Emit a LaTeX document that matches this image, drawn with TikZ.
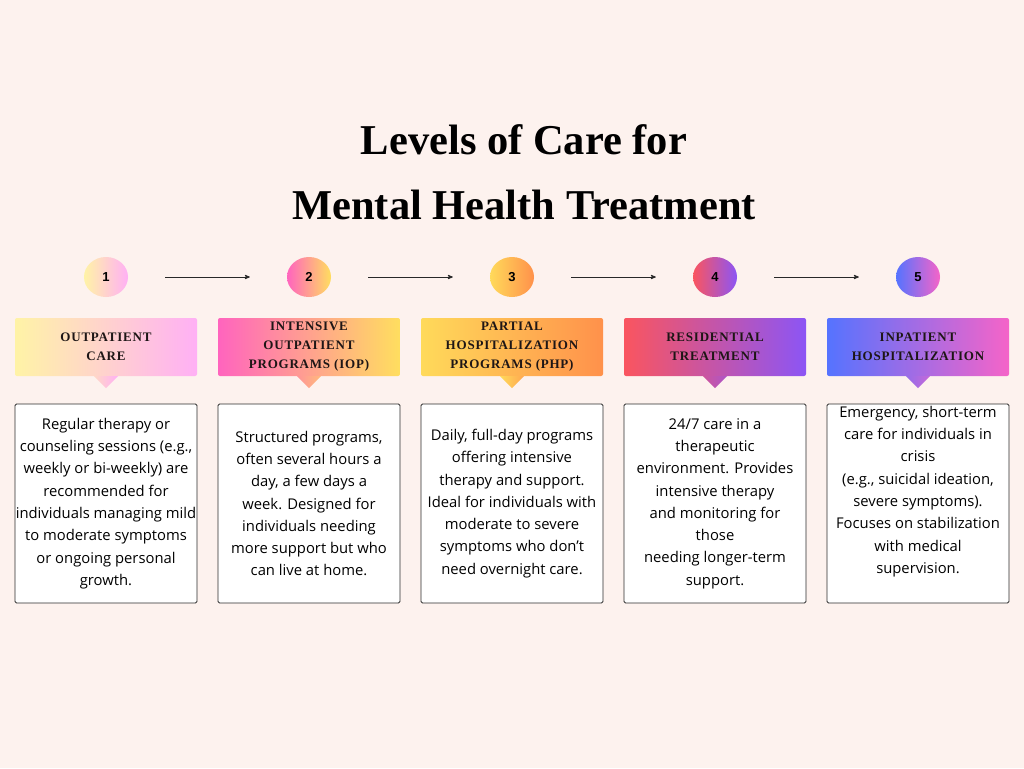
\documentclass[tikz,border=0pt]{standalone}
\usepackage{fontspec}
\setmainfont{Liberation Serif}
\setsansfont{Open Sans}
\newfontfamily\headfont[LetterSpace=6]{Liberation Serif}
\newfontfamily\numfont{Liberation Sans}
\usepackage{tikz}
\usetikzlibrary{arrows}
\usetikzlibrary{shapes.geometric}
\usetikzlibrary{positioning}

\definecolor{bgpink}{RGB}{253,242,238}
\definecolor{headtext}{RGB}{30,22,22}
\definecolor{boxline}{RGB}{45,45,45}
\definecolor{arrowline}{RGB}{40,40,40}
\definecolor{cyellow}{RGB}{255,243,166}
\definecolor{cpink}{RGB}{255,176,245}
\definecolor{chotpink}{RGB}{255,100,190}
\definecolor{cgold}{RGB}{255,222,95}
\definecolor{cyellowb}{RGB}{255,218,90}
\definecolor{corange}{RGB}{255,145,75}
\definecolor{cred}{RGB}{250,85,95}
\definecolor{cviolet}{RGB}{140,85,245}
\definecolor{cblue}{RGB}{85,115,255}
\definecolor{cmagenta}{RGB}{245,100,200}

\begin{document}
\begin{tikzpicture}[x=1pt,y=-1pt,>=stealth',node distance=203pt,
  num node/.style={ellipse,minimum width=44pt,minimum height=40pt,inner sep=0pt,font=\numfont\bfseries\fontsize{13}{15}\selectfont},
  head node/.style={rectangle,rounded corners=2pt,minimum width=182pt,minimum height=58pt,inner sep=0pt,align=center,text=headtext,font=\headfont\bfseries\fontsize{13}{19}\selectfont},
  desc box/.style={rectangle,draw=boxline,line width=0.8pt,fill=white,rounded corners=1.5pt,minimum width=182pt,minimum height=199pt,inner sep=0pt,align=center,font=\sffamily\fontsize{14.8}{22.3}\selectfont},
  flow/.style={->,draw=arrowline,line width=0.8pt,shorten <=37pt,shorten >=37pt}]

  \fill[bgpink] (0,0) rectangle (1024,768);
  \useasboundingbox (0,0) rectangle (1024,768);

  \node[font=\bfseries\fontsize{42.5}{65}\selectfont,align=center] (title) at (524,172) {Levels of Care for\\Mental Health Treatment};

  % step numbers
  \node[num node,left color=cyellow,right color=cpink] (n1) at (106,277) {1};
  \node[num node,left color=chotpink,right color=cgold] (n2) [right of=n1] {2};
  \node[num node,left color=cyellowb,right color=corange] (n3) [right of=n2] {3};
  \node[num node,left color=cred,right color=cviolet] (n4) [right of=n3] {4};
  \node[num node,left color=cblue,right color=cmagenta] (n5) [right of=n4] {5};

  \draw[flow] (n1) -- (n2);
  \draw[flow] (n2) -- (n3);
  \draw[flow] (n3) -- (n4);
  \draw[flow] (n4) -- (n5);

  % headers
  \node[head node,left color=cyellow,right color=cpink] (h1) [below of=n1,node distance=70pt] {OUTPATIENT\\CARE};
  \node[head node,left color=chotpink,right color=cgold] (h2) [below of=n2,node distance=70pt] {INTENSIVE\\OUTPATIENT\\PROGRAMS (IOP)};
  \node[head node,left color=cyellowb,right color=corange] (h3) [below of=n3,node distance=70pt] {PARTIAL\\HOSPITALIZATION\\PROGRAMS (PHP)};
  \node[head node,left color=cred,right color=cviolet] (h4) [below of=n4,node distance=70pt] {RESIDENTIAL\\TREATMENT};
  \node[head node,left color=cblue,right color=cmagenta] (h5) [below of=n5,node distance=70pt] {INPATIENT\\HOSPITALIZATION};

  \shade[left color=cyellow!60!cpink,right color=cpink] ([xshift=-12pt]h1.south) -- ([xshift=12pt]h1.south) -- ([yshift=-12pt]h1.south) -- cycle;
  \shade[left color=chotpink!60!cgold,right color=cgold!70!chotpink] ([xshift=-12pt]h2.south) -- ([xshift=12pt]h2.south) -- ([yshift=-12pt]h2.south) -- cycle;
  \shade[left color=cyellowb,right color=corange!70!cyellowb] ([xshift=-12pt]h3.south) -- ([xshift=12pt]h3.south) -- ([yshift=-12pt]h3.south) -- cycle;
  \shade[left color=cred!60!cviolet,right color=cviolet!70!cred] ([xshift=-12pt]h4.south) -- ([xshift=12pt]h4.south) -- ([yshift=-12pt]h4.south) -- cycle;
  \shade[left color=cblue!60!cmagenta,right color=cmagenta!70!cblue] ([xshift=-12pt]h5.south) -- ([xshift=12pt]h5.south) -- ([yshift=-12pt]h5.south) -- cycle;

  % descriptions
  \node[desc box] (d1) [below of=h1,node distance=156.5pt] {Regular therapy or\\counseling sessions (e.g.,\\weekly or bi-weekly) are\\recommended for\\individuals managing mild\\to moderate symptoms\\or ongoing personal\\growth.};
  \node[desc box] (d2) [below of=h2,node distance=156.5pt] {Structured programs,\\often several hours a\\day, a few days a\\week. Designed for\\individuals needing\\more support but who\\can live at home.};
  \node[desc box] (d3) [below of=h3,node distance=156.5pt] {Daily, full-day programs\\offering intensive\\therapy and support.\\Ideal for individuals with\\moderate to severe\\symptoms who don’t\\need overnight care.};
  \node[desc box] (d4) [below of=h4,node distance=156.5pt] {24/7 care in a\\therapeutic\\environment. Provides\\intensive therapy\\and monitoring for\\those\\needing longer-term\\support.};
  \node[desc box] (d5) [below of=h5,node distance=156.5pt] {};
  \node[align=center,inner sep=0pt,font=\sffamily\fontsize{14.8}{22.3}\selectfont] (t5) at ([yshift=12pt]d5.center) {Emergency, short-term\\care for individuals in\\crisis\\(e.g., suicidal ideation,\\severe symptoms).\\Focuses on stabilization\\with medical\\supervision.};

\end{tikzpicture}
\end{document}
